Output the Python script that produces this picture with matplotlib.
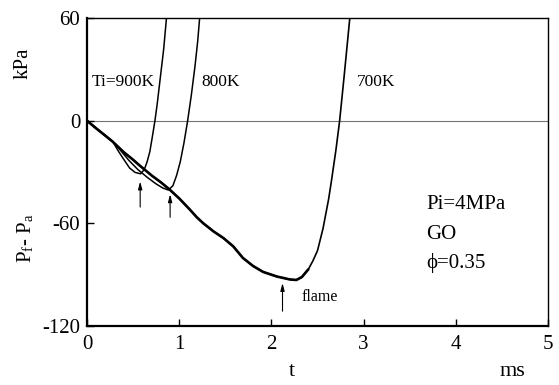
import matplotlib
matplotlib.use("Agg")
import matplotlib.pyplot as plt

plt.rcParams['font.family'] = ['Liberation Serif', 'DejaVu Serif']
plt.rcParams['mathtext.fontset'] = 'stix'
plt.rcParams['axes.unicode_minus'] = False

# Flame (Ti = 700 K) pressure-difference trace
t_700 = [0, 0.1, 0.2, 0.275, 0.4, 0.49, 0.56, 0.7, 0.8, 0.89, 1.0, 1.115,
         1.19, 1.26, 1.37, 1.48, 1.585, 1.69, 1.8, 1.91, 2.06, 2.2, 2.27,
         2.33, 2.4, 2.45, 2.5, 2.56, 2.62, 2.65, 2.7, 2.74, 2.79, 2.85]
p_700 = [0, -4.5, -8.8, -12.1, -18.5, -22.4, -25.7, -32, -36, -40, -45.5, -52,
         -56.5, -60, -64.7, -68.7, -73.5, -80.3, -85, -88.5, -91.2, -92.9,
         -93.2, -91.5, -87, -82, -76, -63, -46, -35.6, -17, 0, 26.7, 60]

# Ti = 800 K
t_800 = [0, 0.2, 0.28, 0.35, 0.45, 0.55, 0.65, 0.75, 0.82, 0.88, 0.93, 0.97,
         1.01, 1.05, 1.09, 1.13, 1.17, 1.2, 1.22]
p_800 = [0, -8.8, -12.3, -16.5, -23, -28.5, -33, -37, -39.3, -40.5, -38, -32,
         -24, -13, 0, 15, 32, 47, 60]

# Ti = 900 K
t_900 = [0, 0.2, 0.28, 0.33, 0.39, 0.46, 0.52, 0.58, 0.62, 0.65, 0.68, 0.705,
         0.735, 0.76, 0.79, 0.83, 0.86]
p_900 = [0, -8.8, -12.3, -17, -22, -27.6, -30.2, -31, -28.5, -24, -18, -10,
         0, 10, 23.7, 42, 60]

# Ignition markers: (time, arrow tip, arrow tail)
arrow_t = [0.575, 0.9, 2.12]
arrow_tip = [-35.5, -43, -95]
arrow_tail = [-50.5, -56.5, -111.5]

x_ticks = [0, 1, 2, 3, 4, 5]
y_ticks = [-120, -60, 0, 60]

fig = plt.figure(figsize=(5.59, 3.85), dpi=100)
ax = fig.add_axes([0.156, 0.154, 0.824, 0.798])

ax.axhline(0, color='0.45', lw=0.8, zorder=1)

# the descending (flame) part is drawn heavier than the pressure rise
n_heavy = t_700.index(2.4) + 1
ax.plot(t_700[:n_heavy], p_700[:n_heavy], color='black', lw=1.9,
        solid_capstyle='round', solid_joinstyle='round', zorder=3)
ax.plot(t_700, p_700, color='black', lw=1.2, zorder=3)
ax.plot(t_800, p_800, color='black', lw=1.1, zorder=2)
ax.plot(t_900, p_900, color='black', lw=1.1, zorder=2)

for t, tip, tail in zip(arrow_t, arrow_tip, arrow_tail):
    ax.annotate('', xy=(t, tip), xytext=(t, tail),
                arrowprops=dict(arrowstyle='-|>,head_length=0.45,head_width=0.12',
                                color='black', lw=0.8, shrinkA=0, shrinkB=0))

ax.set_xlim(0, 5)
ax.set_ylim(-120, 60)
ax.set_xticks(x_ticks)
ax.set_yticks(y_ticks)
ax.tick_params(direction='in', length=5, width=1.0, labelsize=15)
ax.tick_params(axis='x', pad=7)
ax.tick_params(axis='y', pad=5)

for side in ['left', 'bottom']:
    ax.spines[side].set_linewidth(1.6)
for side in ['top', 'right']:
    ax.spines[side].set_linewidth(1.0)

ax.text(0.05, 23, 'Ti=900K', fontsize=12.5, va='center', ha='left')
ax.text(1.24, 23, '800K', fontsize=12.5, va='center', ha='left')
ax.text(2.93, 23, '700K', fontsize=12.5, va='center', ha='left')
ax.text(2.33, -103, 'flame', fontsize=11.5, va='center', ha='left')

ax.text(3.68, -49, 'Pi=4MPa', fontsize=15, va='center', ha='left')
ax.text(3.68, -66.5, 'GO', fontsize=15, va='center', ha='left')
ax.text(3.68, -83, 'ϕ=0.35', fontsize=15, va='center', ha='left')

fig.text(23 / 559, 1 - 63 / 385, 'kPa', rotation=90, fontsize=15,
         ha='center', va='center')
fig.text(26 / 559, 1 - 238 / 385, r'P$_\mathregular{f}$- P$_\mathregular{a}$',
         rotation=90, fontsize=15, ha='center', va='center')
fig.text(292 / 559, 1 - 371 / 385, 't', fontsize=16, ha='center', va='center')
fig.text(512 / 559, 1 - 371 / 385, 'ms', fontsize=16, ha='center', va='center')

fig.savefig('out.png', dpi=100)
